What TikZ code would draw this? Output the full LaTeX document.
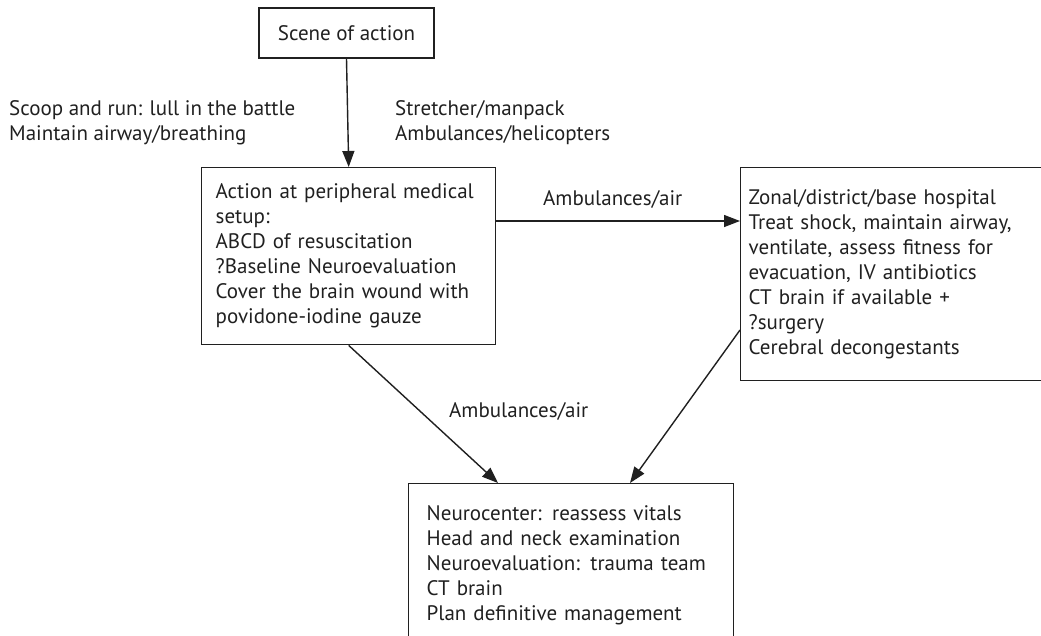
\documentclass[tikz,border=0pt]{standalone}
\usepackage{fontspec}
\setmainfont{PT Sans}
\usetikzlibrary{arrows.meta}
\definecolor{ink}{HTML}{202020}

\begin{document}
\begin{tikzpicture}
  [
    x=1pt, y=-1pt,
    font=\fontsize{21}{25}\selectfont, text=ink,
    block/.style =
      {draw=ink, rectangle, line width=1.4pt, align=left, anchor=north west},
    note/.style =
      {align=left, inner sep=0pt, anchor=north west},
    link/.style =
      {draw=ink, line width=1.4pt, -{Triangle[length=16pt, width=12pt]}}
  ]
  \useasboundingbox (0,0) rectangle (1041,635);

  \node [block, align=center, anchor=center,
         minimum width=175pt, minimum height=50pt] at (346.5,33) (scene) {Scene of action};
  \node [block, text width=266pt, inner xsep=14pt, minimum height=177pt] at (201,167) (act)
    {Action at peripheral medical\\ setup:\\ ABCD of resuscitation\\ ?Baseline Neuroevaluation\\
     Cover the brain wound with\\ povidone-iodine gauze};
  \node [block, text width=289pt, inner xsep=8pt, minimum height=213pt] at (740,167) (zone)
    {Zonal/district/base hospital\\ Treat shock, maintain airway,\\ ventilate, assess fitness for\\
     evacuation, IV antibiotics\\ CT brain if available +\\ ?surgery\\ Cerebral decongestants};
  \node [block, text width=289pt, inner xsep=18pt, minimum height=164pt] at (408,483) (neuro)
    {Neurocenter: reassess vitals\\ Head and neck examination\\ Neuroevaluation: trauma team\\
     CT brain\\ Plan definitive management};

  \node [note] at (9,100)   (scoop) {Scoop and run: lull in the battle\\ Maintain airway/breathing};
  \node [note] at (395,100) (carry) {Stretcher/manpack\\ Ambulances/helicopters};
  \node [note] at (543,190) (air1)  {Ambulances/air};
  \node [note] at (449,402) (air2)  {Ambulances/air};

  \draw [link] (scene.south)                   -- (act.north);
  \draw [link] ([yshift=-54pt]act.north east)  -- ([yshift=-54pt]zone.north west);
  \draw [link] (act.south)                     -- ([xshift=90pt]neuro.north west);
  \draw [link] ([yshift=-163pt]zone.north west) -- ([xshift=222pt]neuro.north west);

\end{tikzpicture}
\end{document}
